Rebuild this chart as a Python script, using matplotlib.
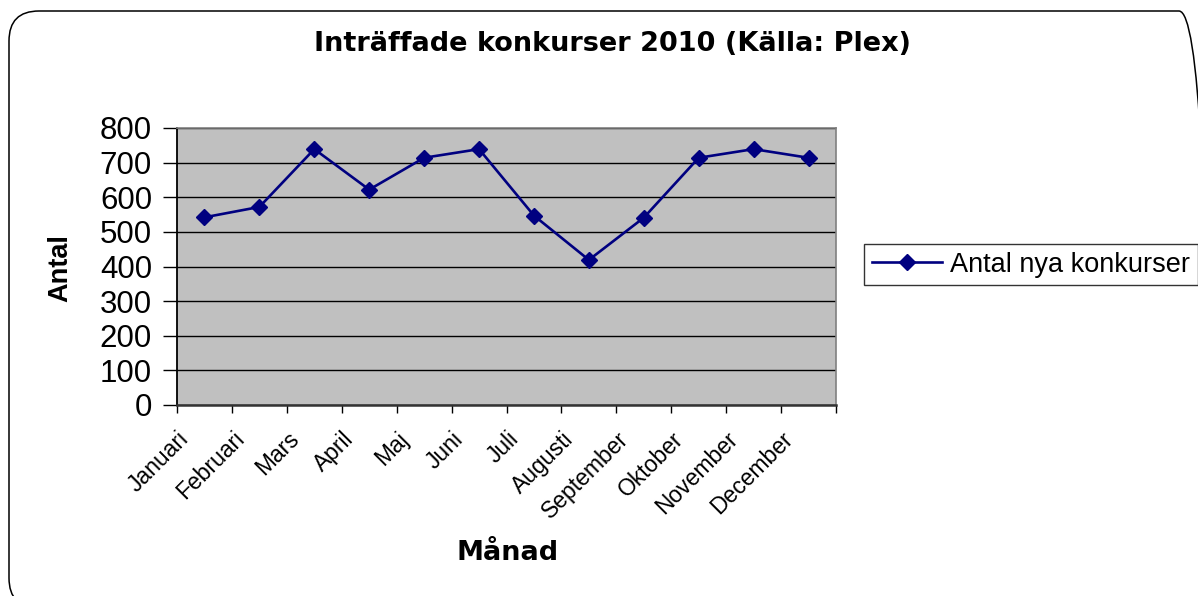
import matplotlib
matplotlib.use("Agg")
import matplotlib.pyplot as plt
from matplotlib.patches import FancyBboxPatch
from matplotlib.transforms import IdentityTransform, ScaledTranslation
import numpy as np

months = ["Januari", "Februari", "Mars", "April", "Maj", "Juni", "Juli",
          "Augusti", "September", "Oktober", "November", "December"]
konkurser = [542, 572, 739, 622, 714, 739, 547, 419, 541, 714, 739, 714]
yticks = [0, 100, 200, 300, 400, 500, 600, 700, 800]
series_name = "Antal nya konkurser"
title = "Inträffade konkurser 2010 (Källa: Plex)"
xlabel = "Månad"
ylabel = "Antal"

plt.rcParams['font.family'] = ['Liberation Sans', 'DejaVu Sans']

W, H, DPI = 1198, 596, 100
fig = plt.figure(figsize=(W / DPI, H / DPI), dpi=DPI)
fig.patch.set_facecolor("white")

# rounded chart border (pixel coordinates)
border = FancyBboxPatch((9, -12), 1200, 597,
                        boxstyle="round,pad=0,rounding_size=30",
                        transform=IdentityTransform(), facecolor="none",
                        edgecolor="black", linewidth=1.1, zorder=0,
                        mutation_scale=1, mutation_aspect=1)
fig.patches.append(border)

# axes in pixel terms: left 177, right 836, top 128, bottom 405
ax = fig.add_axes([177 / W, (H - 405) / H, 659 / W, 277 / H])
ax.set_facecolor("#c0c0c0")

x = np.arange(len(months))
ax.plot(x, konkurser, color="#000080", linewidth=1.9, marker="D",
        markersize=8.4, markerfacecolor="#000080", markeredgecolor="#000080",
        label=series_name, zorder=3)

ax.set_xlim(-0.5, len(months) - 0.5)
ax.set_ylim(0, 800)
ax.set_yticks(yticks)
ax.yaxis.grid(True, color="black", linewidth=1.0)
ax.set_axisbelow(True)

# category labels at centres, tick marks at boundaries
ax.set_xticks(x)
ax.set_xticklabels(months, rotation=45, ha="right", va="center",
                   rotation_mode="anchor", fontsize=16.5)
ax.set_xticks(np.arange(-0.5, len(months)), minor=True)
ax.tick_params(axis="x", which="major", length=0, pad=22)
ax.tick_params(axis="x", which="minor", length=6, width=1.0, color="black",
               direction="out")
shift = ScaledTranslation(-19 / DPI, 0, fig.dpi_scale_trans)
for lab in ax.get_xticklabels():
    lab.set_transform(lab.get_transform() + shift)

ax.tick_params(axis="y", length=10, width=1.0, color="black", pad=8,
               labelsize=22.5)

for side in ["top", "right"]:
    ax.spines[side].set_color("#808080")
    ax.spines[side].set_linewidth(1.2)
ax.spines["left"].set_color("black")
ax.spines["left"].set_linewidth(1.3)
ax.spines["bottom"].set_color("#333333")
ax.spines["bottom"].set_linewidth(1.8)

# titles
fig.text(612 / W, 1 - 44 / H, title, ha="center", va="center",
         fontsize=19.5, fontweight="bold", family=["DejaVu Sans"])
fig.text(508 / W, 1 - 553 / H, xlabel, ha="center", va="center",
         fontsize=19.5, fontweight="bold", family=["DejaVu Sans"])
fig.text(60 / W, 1 - 268 / H, ylabel, ha="center", va="center",
         rotation=90, fontsize=19.5, fontweight="bold")

leg = ax.legend(loc="upper left", bbox_to_anchor=(864, H - 244),
                bbox_transform=IdentityTransform(), fontsize=19.5,
                frameon=True, fancybox=False, shadow=False,
                borderpad=0.28, handlelength=2.6, handletextpad=0.3,
                borderaxespad=0)
leg.get_frame().set_edgecolor("black")
leg.get_frame().set_linewidth(1.0)

fig.savefig("out.png", dpi=DPI)
